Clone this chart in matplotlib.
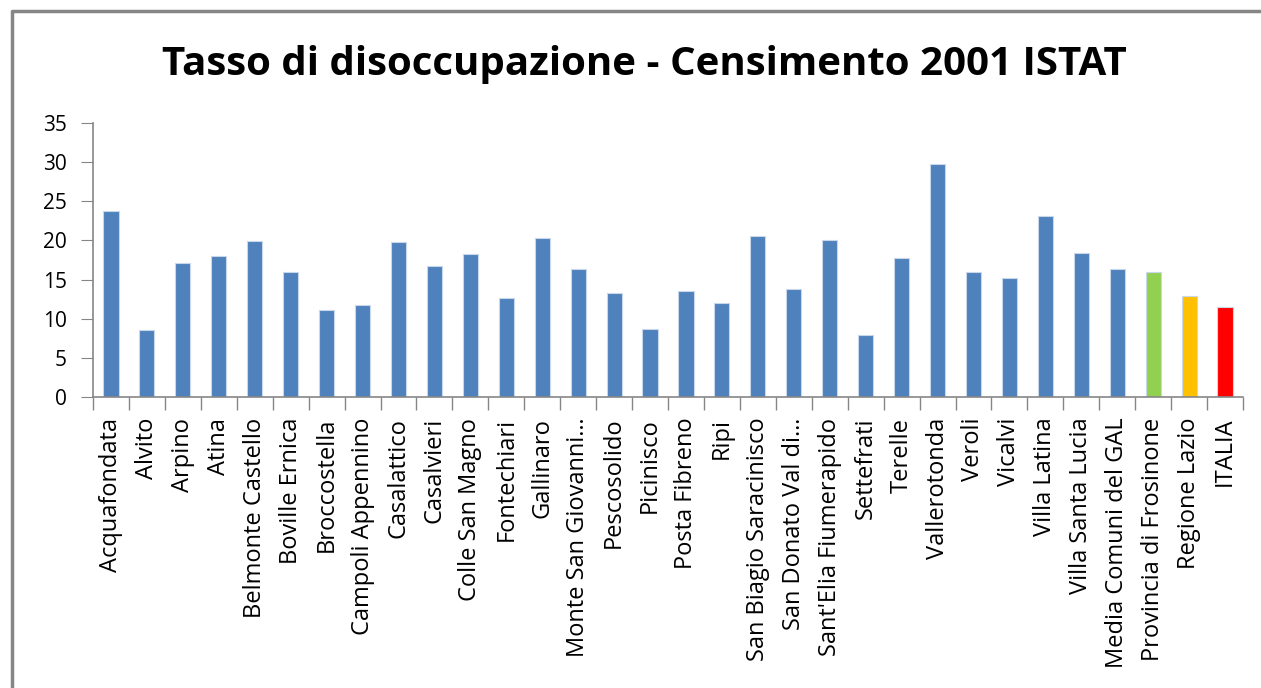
import matplotlib.pyplot as plt
import numpy as np
from matplotlib.lines import Line2D

comuni = ['Acquafondata', 'Alvito', 'Arpino', 'Atina', 'Belmonte Castello',
          'Boville Ernica', 'Broccostella', 'Campoli Appennino', 'Casalattico',
          'Casalvieri', 'Colle San Magno', 'Fontechiari', 'Gallinaro',
          'Monte San Giovanni…', 'Pescosolido', 'Picinisco', 'Posta Fibreno',
          'Ripi', 'San Biagio Saracinisco', 'San Donato Val di…',
          "Sant'Elia Fiumerapido", 'Settefrati', 'Terelle', 'Vallerotonda',
          'Veroli', 'Vicalvi', 'Villa Latina', 'Villa Santa Lucia',
          'Media Comuni del GAL', 'Provincia di Frosinone', 'Regione Lazio', 'ITALIA']
tasso = [23.7, 8.6, 17.1, 18.0, 19.9, 16.0, 11.1, 11.7, 19.8, 16.7, 18.3, 12.7,
         20.3, 16.4, 13.3, 8.7, 13.5, 12.0, 20.6, 13.8, 20.1, 7.9, 17.8, 29.8,
         16.0, 15.2, 23.1, 18.4, 16.4, 16.0, 12.9, 11.5]
colori = ['#4F81BD'] * 29 + ['#92D050', '#FFC000', '#FF0000']

plt.rcParams['font.family'] = ['Open Sans', 'DejaVu Sans']

fig = plt.figure(figsize=(12.61, 6.88), dpi=100)
# chart frame: top and left border only (image is cropped)
bx = 12 / 1261
by = (688 - 11) / 688
fig.lines.append(Line2D([bx, bx, 1], [0, by, by], transform=fig.transFigure,
                        color='#868686', linewidth=2.5))

ax = fig.add_axes([93 / 1261, (688 - 397) / 688, 1150 / 1261, 274 / 688])
x = np.arange(len(comuni))
ax.bar(x, tasso, width=0.42, color=colori, edgecolor='#C9D7EA', linewidth=0.8)

ax.set_xlim(-0.5, len(comuni) - 0.5)
ax.set_ylim(0, 35)
ax.set_yticks(range(0, 36, 5))
ax.set_xticks(x)
ax.set_xticklabels(comuni, rotation=90, fontsize=17)
ax.tick_params(axis='x', length=0, pad=15)
ax.set_xticks(np.arange(-0.5, len(comuni), 1), minor=True)
ax.tick_params(axis='x', which='minor', length=9, color='#868686', width=1)
ax.tick_params(axis='y', length=9, color='#868686', labelsize=15, pad=10)
for s in ['top', 'right']:
    ax.spines[s].set_visible(False)
for s in ['left', 'bottom']:
    ax.spines[s].set_color('#868686')
    ax.spines[s].set_linewidth(1.2)

fig.text(644 / 1261, (688 - 64) / 688, 'Tasso di disoccupazione - Censimento 2001 ISTAT',
         ha='center', va='center', fontsize=29, fontweight='bold')

fig.savefig('out.png')
